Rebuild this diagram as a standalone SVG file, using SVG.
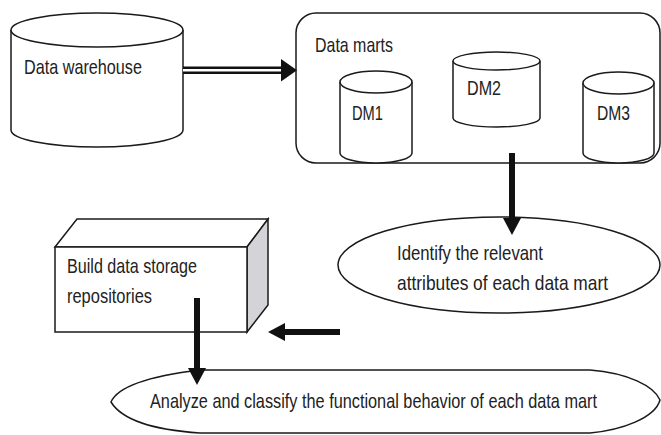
<svg xmlns="http://www.w3.org/2000/svg" width="661" height="435" viewBox="0 0 661 435">
<defs>
<style>
.shape{fill:#fff;stroke:#1a1a1a;stroke-width:1.5}
.side{fill:#d4d4d8;stroke:#1a1a1a;stroke-width:1.5}
.lbl{font-family:"Liberation Sans",Arial,sans-serif;font-size:20.5px;fill:#222}
.conn{stroke:#111;stroke-width:6;fill:none}
</style>
<marker id="ah" markerUnits="userSpaceOnUse" viewBox="0 0 17 18" refX="0" refY="9" markerWidth="17" markerHeight="18" orient="auto">
<path d="M0,0 L17,9 L0,18 Z" fill="#111"/>
</marker>
</defs>
<rect width="661" height="435" fill="#fff"/>

<g id="data-warehouse">
<path class="shape" d="M11,30 L11,130 A86,17 0 0 0 183,130 L183,30"/>
<ellipse class="shape" cx="97" cy="30" rx="86" ry="17"/>
<text class="lbl" transform="translate(24,74) scale(0.8,1)" textLength="147.5" lengthAdjust="spacingAndGlyphs">Data warehouse</text>
</g>

<g id="data-marts">
<rect class="shape" x="296" y="13" width="364" height="150" rx="20" ry="20"/>
<text class="lbl" transform="translate(315,52) scale(0.8,1)" textLength="97.5" lengthAdjust="spacingAndGlyphs">Data marts</text>
</g>

<g id="dm1">
<path class="shape" d="M340,82 L340,153 A36,10 0 0 0 412,153 L412,82"/>
<ellipse class="shape" cx="376" cy="82" rx="36" ry="11"/>
<text class="lbl" transform="translate(352,120) scale(0.8,1)" textLength="38.75" lengthAdjust="spacingAndGlyphs">DM1</text>
</g>

<g id="dm2">
<path class="shape" d="M453,61 L453,118 A43.5,9 0 0 0 540,118 L540,61"/>
<ellipse class="shape" cx="496.5" cy="61" rx="43.5" ry="9"/>
<text class="lbl" transform="translate(467,95) scale(0.8,1)" textLength="42.5" lengthAdjust="spacingAndGlyphs">DM2</text>
</g>

<g id="dm3">
<path class="shape" d="M583,83 L583,153 A35.5,10 0 0 0 654,153 L654,83"/>
<ellipse class="shape" cx="618.5" cy="83" rx="35.5" ry="11"/>
<text class="lbl" transform="translate(597,120) scale(0.8,1)" textLength="41.25" lengthAdjust="spacingAndGlyphs">DM3</text>
</g>

<g id="identify">
<ellipse class="shape" cx="499" cy="265" rx="161" ry="48"/>
<text class="lbl" transform="translate(397,260) scale(0.8,1)" textLength="182.5" lengthAdjust="spacingAndGlyphs">Identify the relevant</text>
<text class="lbl" transform="translate(397,290) scale(0.8,1)" textLength="263.75" lengthAdjust="spacingAndGlyphs">attributes of each data mart</text>
</g>

<g id="build">
<polygon class="shape" points="55,247 77,219 268,219 247,247"/>
<polygon class="side" points="247,247 268,219 268,305 247,332"/>
<rect class="shape" x="55" y="247" width="192" height="85"/>
<text class="lbl" transform="translate(67,273) scale(0.8,1)" textLength="162.5" lengthAdjust="spacingAndGlyphs">Build data storage</text>
<text class="lbl" transform="translate(67,303) scale(0.8,1)" textLength="106.25" lengthAdjust="spacingAndGlyphs">repositories</text>
</g>

<g id="analyze">
<path class="shape" d="M200,370 L590,370 C628,373 654,386 660,400 C655,418 622,430 590,433 L200,433 C155,430 122,420 111,402 C118,386 150,376 200,370 Z"/>
<text class="lbl" transform="translate(150,408) scale(0.8,1)" textLength="558.75" lengthAdjust="spacingAndGlyphs">Analyze and classify the functional behavior of each data mart</text>
</g>

<g id="connectors">
<line x1="183" y1="70.3" x2="283" y2="70.3" stroke="#111" stroke-width="7.5"/>
<line x1="183" y1="70.3" x2="283" y2="70.3" stroke="#fff" stroke-width="2.5"/>
<polygon points="281,59 297,70.3 281,81.5" fill="#111"/>
<line class="conn" x1="512" y1="153" x2="512" y2="218" marker-end="url(#ah)"/>
<line class="conn" x1="340" y1="332" x2="285" y2="332" marker-end="url(#ah)"/>
<line class="conn" x1="197" y1="298" x2="197" y2="368" marker-end="url(#ah)"/>
</g>
</svg>
